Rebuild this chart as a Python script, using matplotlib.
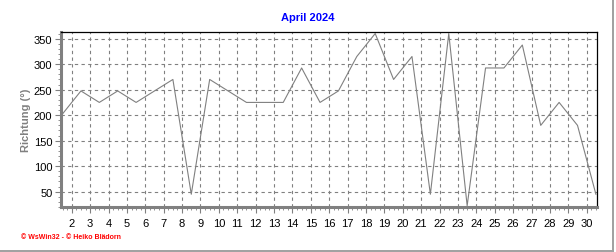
import matplotlib
matplotlib.use('Agg')
import matplotlib.pyplot as plt
from matplotlib.lines import Line2D
from matplotlib.ticker import MultipleLocator
import numpy as np

plt.rcParams['font.family'] = ['Liberation Sans', 'DejaVu Sans']

# daily wind direction, plotted at noon of each day
days = np.arange(1, 31) + 0.5
richtung = [202.5, 247.5, 225, 247.5, 225, 247.5, 270, 45, 270, 247.5,
            225, 225, 225, 292.5, 225, 247.5, 315, 360, 270, 315,
            45, 360, 22.5, 292.5, 292.5, 337.5, 180, 225, 180, 45]
day_ticks = list(range(2, 31))
y_ticks = [50, 100, 150, 200, 250, 300, 350]

W, H = 616, 253
fig = plt.figure(figsize=(W / 100, H / 100), dpi=100)
ax = fig.add_axes([60.7 / W, (H - 208) / H, (597 - 60.7) / W, (208 - 32.5) / H])

ax.plot(days, richtung, color='#808080', lw=0.8)
ax.set_xlim(1.4, 30.56)
ax.set_ylim(20, 364)

ax.set_xticks(day_ticks)
ax.set_yticks(y_ticks)
ax.xaxis.set_minor_locator(MultipleLocator(0.25))
ax.yaxis.set_minor_locator(MultipleLocator(10))
ax.tick_params(axis='both', which='major', direction='out', length=4, width=0.8,
               color='#808080', labelsize=8, labelcolor='black')
ax.tick_params(axis='both', which='minor', direction='out', length=2, width=0.6,
               color='#808080')
ax.tick_params(axis='x', which='major', pad=4)
ax.tick_params(axis='y', which='major', pad=2)

ax.grid(True, which='major', color='#808080', linestyle=(0, (3, 3)), lw=0.8)

for side in ['left', 'bottom']:
    ax.spines[side].set_color('#808080')
    ax.spines[side].set_linewidth(2.2)
for side in ['top', 'right']:
    ax.spines[side].set_color('black')
    ax.spines[side].set_linewidth(0.9)

fig.text(0.5, 1 - 18 / H, 'April 2024', color='#0000ff', fontweight='bold',
         fontsize=8, ha='center', va='center')
fig.text(26 / W, 1 - 120 / H, 'Richtung (°)', color='#808080', fontweight='bold',
         fontsize=8, rotation=90, ha='center', va='center')
fig.text(21 / W, 1 - 238 / H, '© WsWin32 - © Heiko Blädorn', color='#ff0000',
         fontweight='bold', fontsize=5, ha='left', va='center')

# light frame at right and bottom
fig.add_artist(Line2D([613 / W, 613 / W], [1 / H, 1], transform=fig.transFigure,
                      color='#a0a0a0', lw=1.4))
fig.add_artist(Line2D([0, 613 / W], [1 / H, 1 / H], transform=fig.transFigure,
                      color='#a0a0a0', lw=1.4))

fig.savefig('out.png', dpi=100)
